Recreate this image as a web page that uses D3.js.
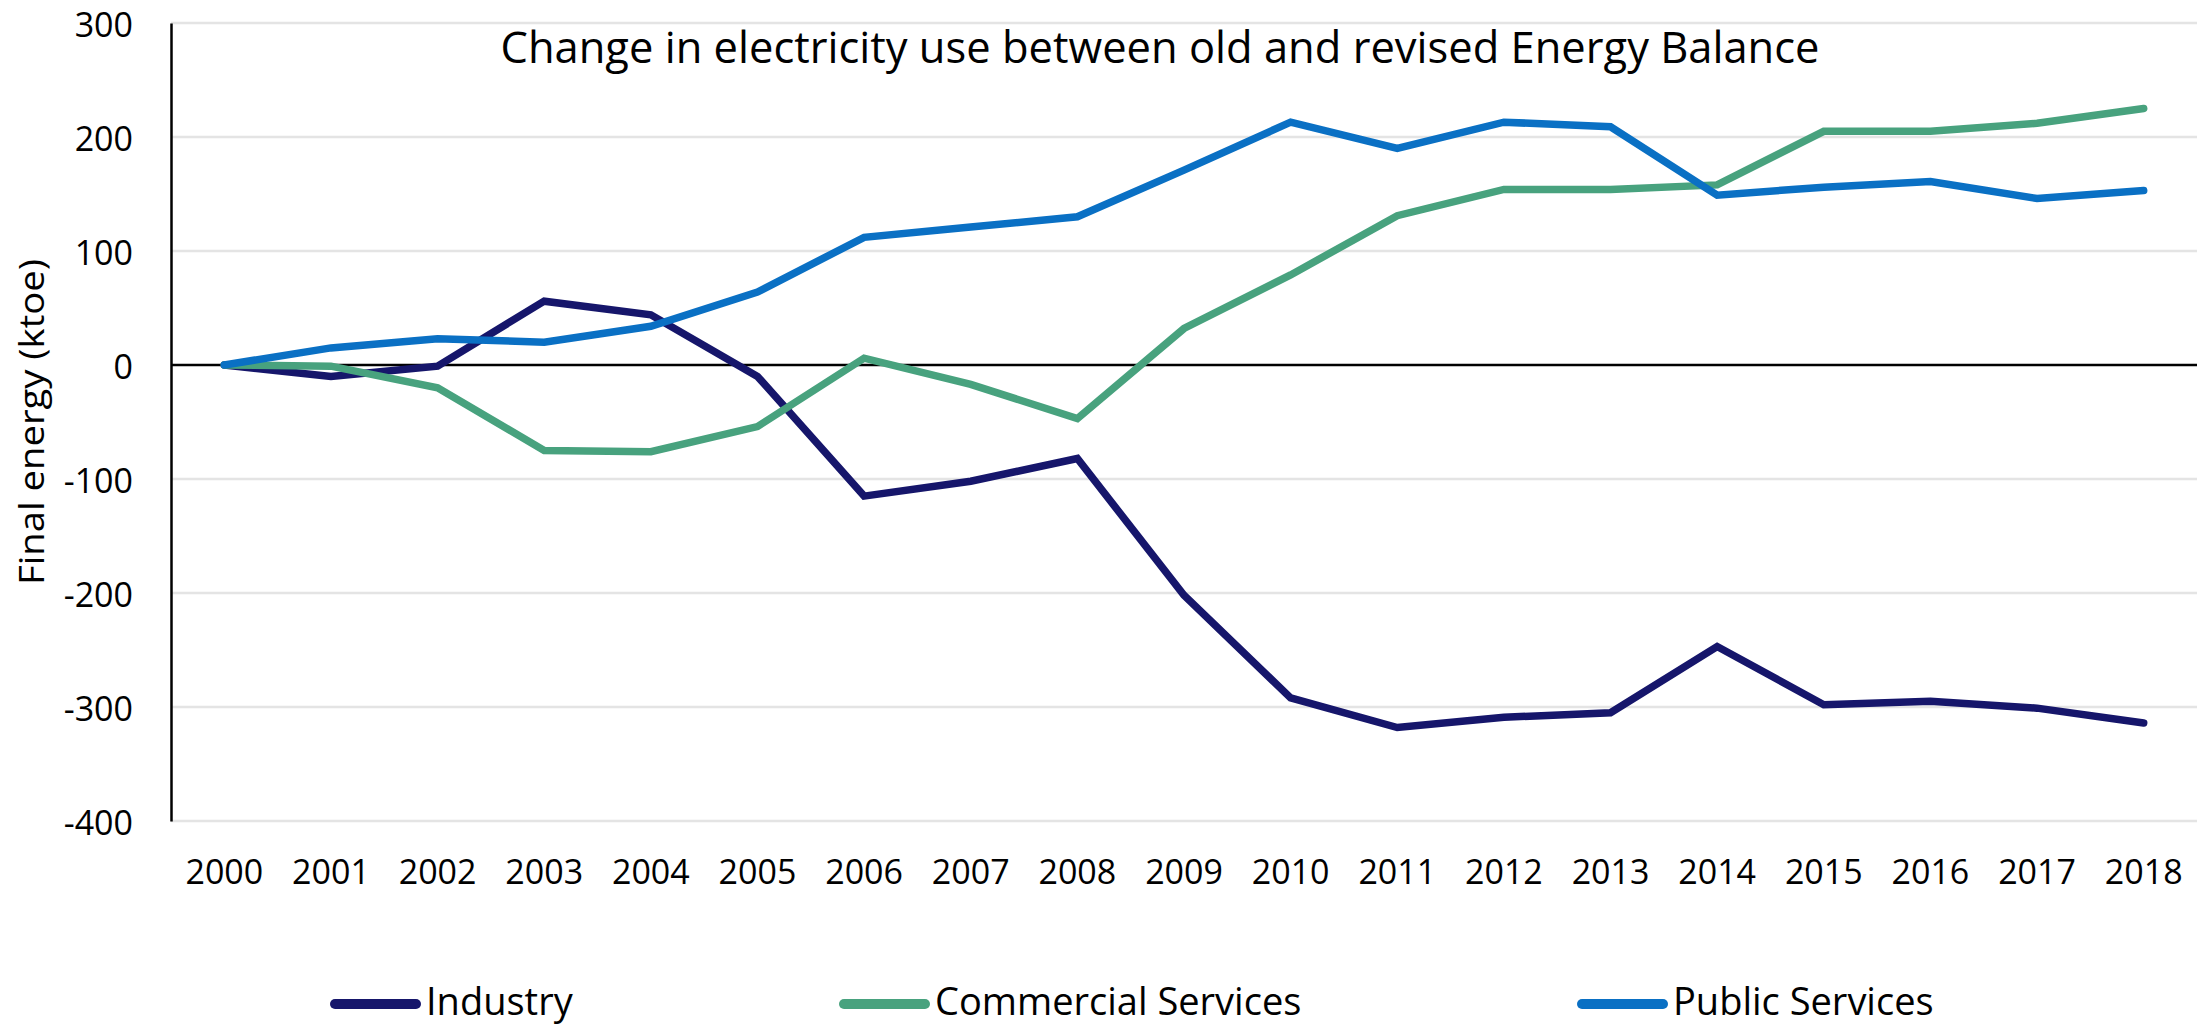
<!DOCTYPE html>
<html>
<head>
<meta charset="utf-8">
<script src="https://cdn.jsdelivr.net/npm/d3@7"></script>
<style>
  body { margin: 0; background: #fff; }
  svg { display: block; font-family: "Open Sans", sans-serif; }
</style>
</head>
<body>
<svg id="chart" width="2208" height="1025"></svg>
<script>
// data
const years = ["2000","2001","2002","2003","2004","2005","2006","2007","2008","2009","2010","2011","2012","2013","2014","2015","2016","2017","2018"];
const industry = [0, -10, -1, 56, 44, -10, -115, -102, -82, -202, -292, -318, -309, -305, -247, -298, -295, -301, -314];
const commercial = [0, -1, -20, -75, -76, -54, 6, -17, -47, 32, 79, 131, 154, 154, 158, 205, 205, 212, 225];
const publicServ = [0, 15, 23, 20, 34, 64, 112, 121, 130, 171, 213, 190, 213, 209, 149, 156, 161, 146, 153];
const yTicks = [300, 200, 100, 0, -100, -200, -300, -400];
const seriesNames = ["Industry", "Commercial Services", "Public Services"];
const seriesColors = ["#16166b", "#48a27e", "#0a70c4"];

const series = [industry, commercial, publicServ].map((vals, i) => ({
    name: seriesNames[i], color: seriesColors[i], values: vals
}));

const svg = d3.select("#chart");
const plotLeft = 171, plotRight = 2197, plotTop = 23, plotBottom = 821;

const x = d3.scaleBand().domain(years).range([plotLeft, plotRight]);
const y = d3.scaleLinear().domain([-400, 300]).range([plotBottom, plotTop]);

// gridlines
svg.append("g").attr("class", "grid")
    .selectAll("line").data(yTicks.filter(d => d !== 0))
    .join("line")
    .attr("x1", plotLeft).attr("x2", plotRight)
    .attr("y1", d => y(d)).attr("y2", d => y(d))
    .attr("stroke", "#e4e4e4").attr("stroke-width", 2.5);

// y axis (plain hyphen for negatives like the original)
const yAxis = svg.append("g")
    .attr("transform", "translate(" + plotLeft + ",0)")
    .call(d3.axisLeft(y).tickValues(yTicks).tickFormat(d => String(d)).tickSize(0).tickPadding(38));
yAxis.select(".domain").attr("stroke", "#000").attr("stroke-width", 2.5);
yAxis.selectAll("text").attr("font-size", 34).attr("fill", "#000")
    .attr("dy", "0.4em")
    .attr("font-family", "Open Sans, sans-serif");

// zero line
svg.append("line")
    .attr("x1", plotLeft).attr("x2", plotRight)
    .attr("y1", y(0)).attr("y2", y(0))
    .attr("stroke", "#000").attr("stroke-width", 2.5);

// x axis labels (no line)
const xAxis = svg.append("g")
    .attr("transform", "translate(0," + plotBottom + ")")
    .call(d3.axisBottom(x).tickSize(0).tickPadding(39));
xAxis.select(".domain").remove();
xAxis.selectAll("text").attr("font-size", 34).attr("fill", "#000")
    .attr("font-family", "Open Sans, sans-serif");

// lines
const line = d3.line()
    .x((d, i) => x(years[i]) + x.bandwidth() / 2)
    .y(d => y(d));

svg.append("g").selectAll("path")
    .data(series)
    .join("path")
    .attr("d", d => line(d.values))
    .attr("fill", "none")
    .attr("stroke", d => d.color)
    .attr("stroke-width", 7.5)
    .attr("stroke-linejoin", "miter")
    .attr("stroke-linecap", "round");

// title
svg.append("text")
    .attr("x", 1160).attr("y", 63)
    .attr("text-anchor", "middle")
    .attr("font-size", 43)
    .attr("textLength", 1319)
    .attr("lengthAdjust", "spacingAndGlyphs")
    .attr("fill", "#000")
    .text("Change in electricity use between old and revised Energy Balance");

// y label
svg.append("text")
    .attr("transform", "translate(44," + ((plotTop + plotBottom) / 2) + ") rotate(-90)")
    .attr("text-anchor", "middle")
    .attr("font-size", 35)
    .attr("textLength", 326)
    .attr("lengthAdjust", "spacingAndGlyphs")
    .attr("fill", "#000")
    .text("Final energy (ktoe)");

// legend
const legendX = [330, 839, 1577];
const legend = svg.append("g").selectAll("g")
    .data(series)
    .join("g")
    .attr("transform", (d, i) => "translate(" + legendX[i] + ",1004)");
legend.append("line")
    .attr("x1", 5).attr("x2", 86)
    .attr("stroke", d => d.color)
    .attr("stroke-width", 10)
    .attr("stroke-linecap", "round");
legend.append("text")
    .attr("x", 96).attr("y", 11)
    .attr("font-size", 38)
    .attr("fill", "#000")
    .text(d => d.name);
</script>
</body>
</html>
